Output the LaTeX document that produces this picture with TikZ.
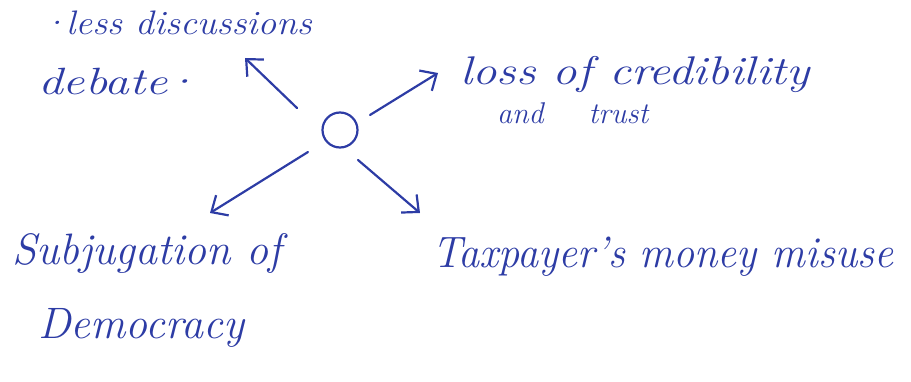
\documentclass[tikz,border=0pt]{standalone}
\usetikzlibrary{arrows.meta}
\definecolor{ink}{RGB}{45,60,165}
\tikzset{
  pen/.style={draw=ink, line width=2.2pt, line cap=round, line join=round},
  link/.style={pen, -{Straight Barb[length=13pt, angle'=85, line width=2.2pt]}},
  note/.style={text=ink, anchor=base west, inner sep=0pt, font=\itshape}
}
\newcommand\wide[2]{\scalebox{#1}[1]{#2}}
\begin{document}
\begin{tikzpicture}[x=1pt, y=-1pt]
  \useasboundingbox (0,0) rectangle (911,382);

  % hub
  \node[pen, circle, minimum size=35pt, inner sep=0pt] (hub) at (340,130) {};

  % arrow end points
  \coordinate (ul) at (245,58);
  \coordinate (ur) at (438,73);
  \coordinate (ll) at (210,213);
  \coordinate (lr) at (420,213);

  \draw[link] (297,108) -- (ul);
  \draw[link] (370,115) -- (ur);
  \draw[link] (308,152) -- (ll);
  \draw[link] (358,160) -- (lr);

  % labels
  \node[note, font=\itshape\fontsize{34}{40}\selectfont] (less) at (40,35) {\wide{1.1}{·\kern-2pt less discussions}};
  \node[note, font=\itshape\fontsize{38}{44}\selectfont] (deb) at (38,95) {\wide{1.3}{debate\kern-4pt·}};
  \node[note, font=\itshape\fontsize{40}{46}\selectfont] (loss) at (460,85) {\wide{1.22}{loss of credibility}};
  \node[note, font=\itshape\fontsize{30}{34}\selectfont] (trust) at (497,124) {and\hspace{1.5em}trust};
  \node[note, font=\itshape\fontsize{44}{50}\selectfont] (subj) at (12,265) {Subjugation of};
  \node[note, font=\itshape\fontsize{44}{50}\selectfont] (demo) at (38,338) {Democracy};
  \node[note, font=\itshape\fontsize{44}{50}\selectfont] (tax) at (432,268) {\wide{0.96}{Taxpayer's money misuse}};
\end{tikzpicture}
\end{document}
